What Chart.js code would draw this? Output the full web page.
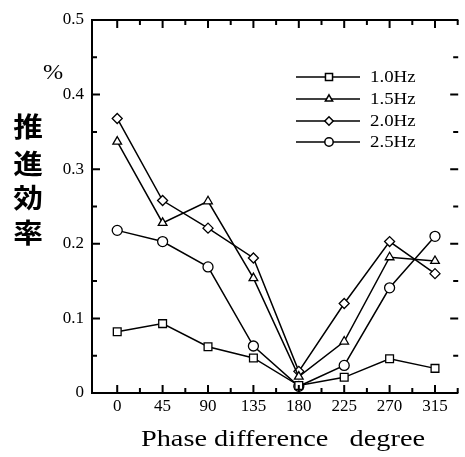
<!DOCTYPE html>
<html><head><meta charset="utf-8">
<script src="https://cdn.jsdelivr.net/npm/chart.js@4/dist/chart.umd.min.js"></script>
<style>html,body{margin:0;padding:0;background:#fff}#wrap{width:465px;height:457px;position:relative}</style>
</head><body><div id="wrap"><canvas id="c" width="465" height="457"></canvas></div>
<script>
const phases = [0, 45, 90, 135, 180, 225, 270, 315];
const xTicks = [0, 45, 90, 135, 180, 225, 270, 315];
const yTicks = [0, 0.1, 0.2, 0.3, 0.4, 0.5];
const seriesNames = ['1.0Hz', '1.5Hz', '2.0Hz', '2.5Hz'];
const eff10 = [0.082, 0.093, 0.062, 0.047, 0.010, 0.021, 0.046, 0.033];
const eff15 = [0.337, 0.228, 0.257, 0.154, 0.022, 0.069, 0.182, 0.177];
const eff20 = [0.368, 0.258, 0.221, 0.181, 0.029, 0.120, 0.203, 0.160];
const eff25 = [0.218, 0.203, 0.169, 0.063, 0.009, 0.037, 0.141, 0.210];
const yTitleChars = ['推', '進', '効', '率'];
const xTitle = 'Phase difference   degree';

const styles = [
  {ps: 'rect', r: 5.5},
  {ps: 'triangle', r: 5},
  {ps: 'rectRot', r: 5},
  {ps: 'circle', r: 5}
];
const allSeries = [eff10, eff15, eff20, eff25];
const datasets = allSeries.map((s, i) => ({
  label: seriesNames[i],
  data: phases.map((p, j) => ({x: p, y: s[j]})),
  borderColor: '#000', borderWidth: 1.5,
  pointStyle: styles[i].ps, pointRadius: styles[i].r, pointHoverRadius: styles[i].r,
  pointBackgroundColor: '#fff', pointBorderColor: '#000', pointBorderWidth: 1.3,
  fill: false, tension: 0
}));

const serif = "'Liberation Serif', 'DejaVu Serif', serif";

function stretchedText(ctx, txt, x, y, sx, align) {
  ctx.save();
  ctx.translate(x, y);
  ctx.scale(sx, 1);
  ctx.textAlign = align;
  ctx.fillText(txt, 0, 0);
  ctx.restore();
}

const framePlugin = {
  id: 'frame',
  afterDatasetsDraw(chart) {
    const ctx = chart.ctx, ca = chart.chartArea;
    const xs = chart.scales.x, ys = chart.scales.y;
    ctx.save();
    ctx.strokeStyle = '#000';
    ctx.lineWidth = 2;
    ctx.beginPath();
    ctx.moveTo(ca.left, ca.top); ctx.lineTo(ca.left, ca.bottom);
    ctx.moveTo(ca.left - 1, ca.bottom); ctx.lineTo(ca.right, ca.bottom);
    ctx.moveTo(ca.left - 1, ca.top); ctx.lineTo(ca.right, ca.top);
    ctx.stroke();
    for (let v = 0; v <= 337.5; v += 22.5) {
      const px = xs.getPixelForValue(v);
      const major = (v % 45) === 0;
      const len = major ? 8 : 5;
      ctx.beginPath();
      ctx.moveTo(px, ca.bottom); ctx.lineTo(px, ca.bottom - len);
      ctx.moveTo(px, ca.top); ctx.lineTo(px, ca.top + len);
      ctx.stroke();
    }
    for (let k = 0; k <= 10; k++) {
      const v = k * 0.05;
      const py = ys.getPixelForValue(v);
      const major = k % 2 === 0;
      const len = major ? 8 : 5;
      ctx.beginPath();
      ctx.moveTo(ca.left, py); ctx.lineTo(ca.left + len, py);
      ctx.moveTo(ca.right, py); ctx.lineTo(ca.right - len, py);
      ctx.stroke();
    }
    ctx.restore();

    // legend
    ctx.save();
    const rows = [77, 99, 121, 142];
    chart.data.datasets.forEach((ds, i) => {
      const y = rows[i];
      ctx.strokeStyle = '#000'; ctx.lineWidth = 1.5;
      ctx.beginPath(); ctx.moveTo(296, y); ctx.lineTo(360, y); ctx.stroke();
      ctx.fillStyle = '#fff';
      const r = ds.pointStyle === 'rect' ? 5 : ds.pointRadius - 0.8;
      Chart.helpers.drawPoint(ctx, {pointStyle: ds.pointStyle, radius: r, borderWidth: 1.3}, 329, y);
      ctx.fillStyle = '#000';
      ctx.font = "16px " + serif;
      ctx.textBaseline = 'middle';
      stretchedText(ctx, ds.label, 370, y + 1, 1.18, 'left');
    });
    ctx.restore();

    // axis titles
    ctx.save();
    ctx.fillStyle = '#000';
    ctx.textBaseline = 'middle';
    ctx.font = "24px " + serif;
    stretchedText(ctx, xTitle, 283, 440, 1.18, 'center');
    ctx.font = "22px " + serif;
    stretchedText(ctx, '%', 53, 73, 1.1, 'center');
    ctx.font = "bold 27px 'Noto Sans CJK JP', sans-serif";
    const cy = [127, 164, 198, 233];
    yTitleChars.forEach((ch, i) => stretchedText(ctx, ch, 28, cy[i], 1.1, 'center'));
    ctx.restore();
  }
};

new Chart(document.getElementById('c'), {
  type: 'line',
  data: {datasets},
  options: {
    responsive: false, animation: false, devicePixelRatio: 1,
    layout: {padding: {top: 20, right: 1, left: 0, bottom: 0}},
    plugins: {legend: {display: false}, tooltip: {enabled: false}},
    scales: {
      x: {
        type: 'linear', min: -25, max: 338,
        afterBuildTicks: s => { s.ticks = xTicks.map(v => ({value: v})); },
        afterFit: s => { s.height = 64; },
        grid: {display: false, drawTicks: false},
        border: {display: false},
        ticks: {color: '#000', font: {family: serif, size: 17}, padding: 3, maxRotation: 0, autoSkip: false,
          callback: v => String(v)}
      },
      y: {
        min: 0, max: 0.5,
        afterBuildTicks: s => { s.ticks = yTicks.map(v => ({value: v})); },
        afterFit: s => { s.width = 92; },
        grid: {display: false, drawTicks: false},
        border: {display: false},
        ticks: {color: '#000', font: {family: serif, size: 17}, padding: 8,
          callback: v => v === 0 ? '0' : v.toFixed(1)}
      }
    }
  },
  plugins: [framePlugin]
});
</script></body></html>
